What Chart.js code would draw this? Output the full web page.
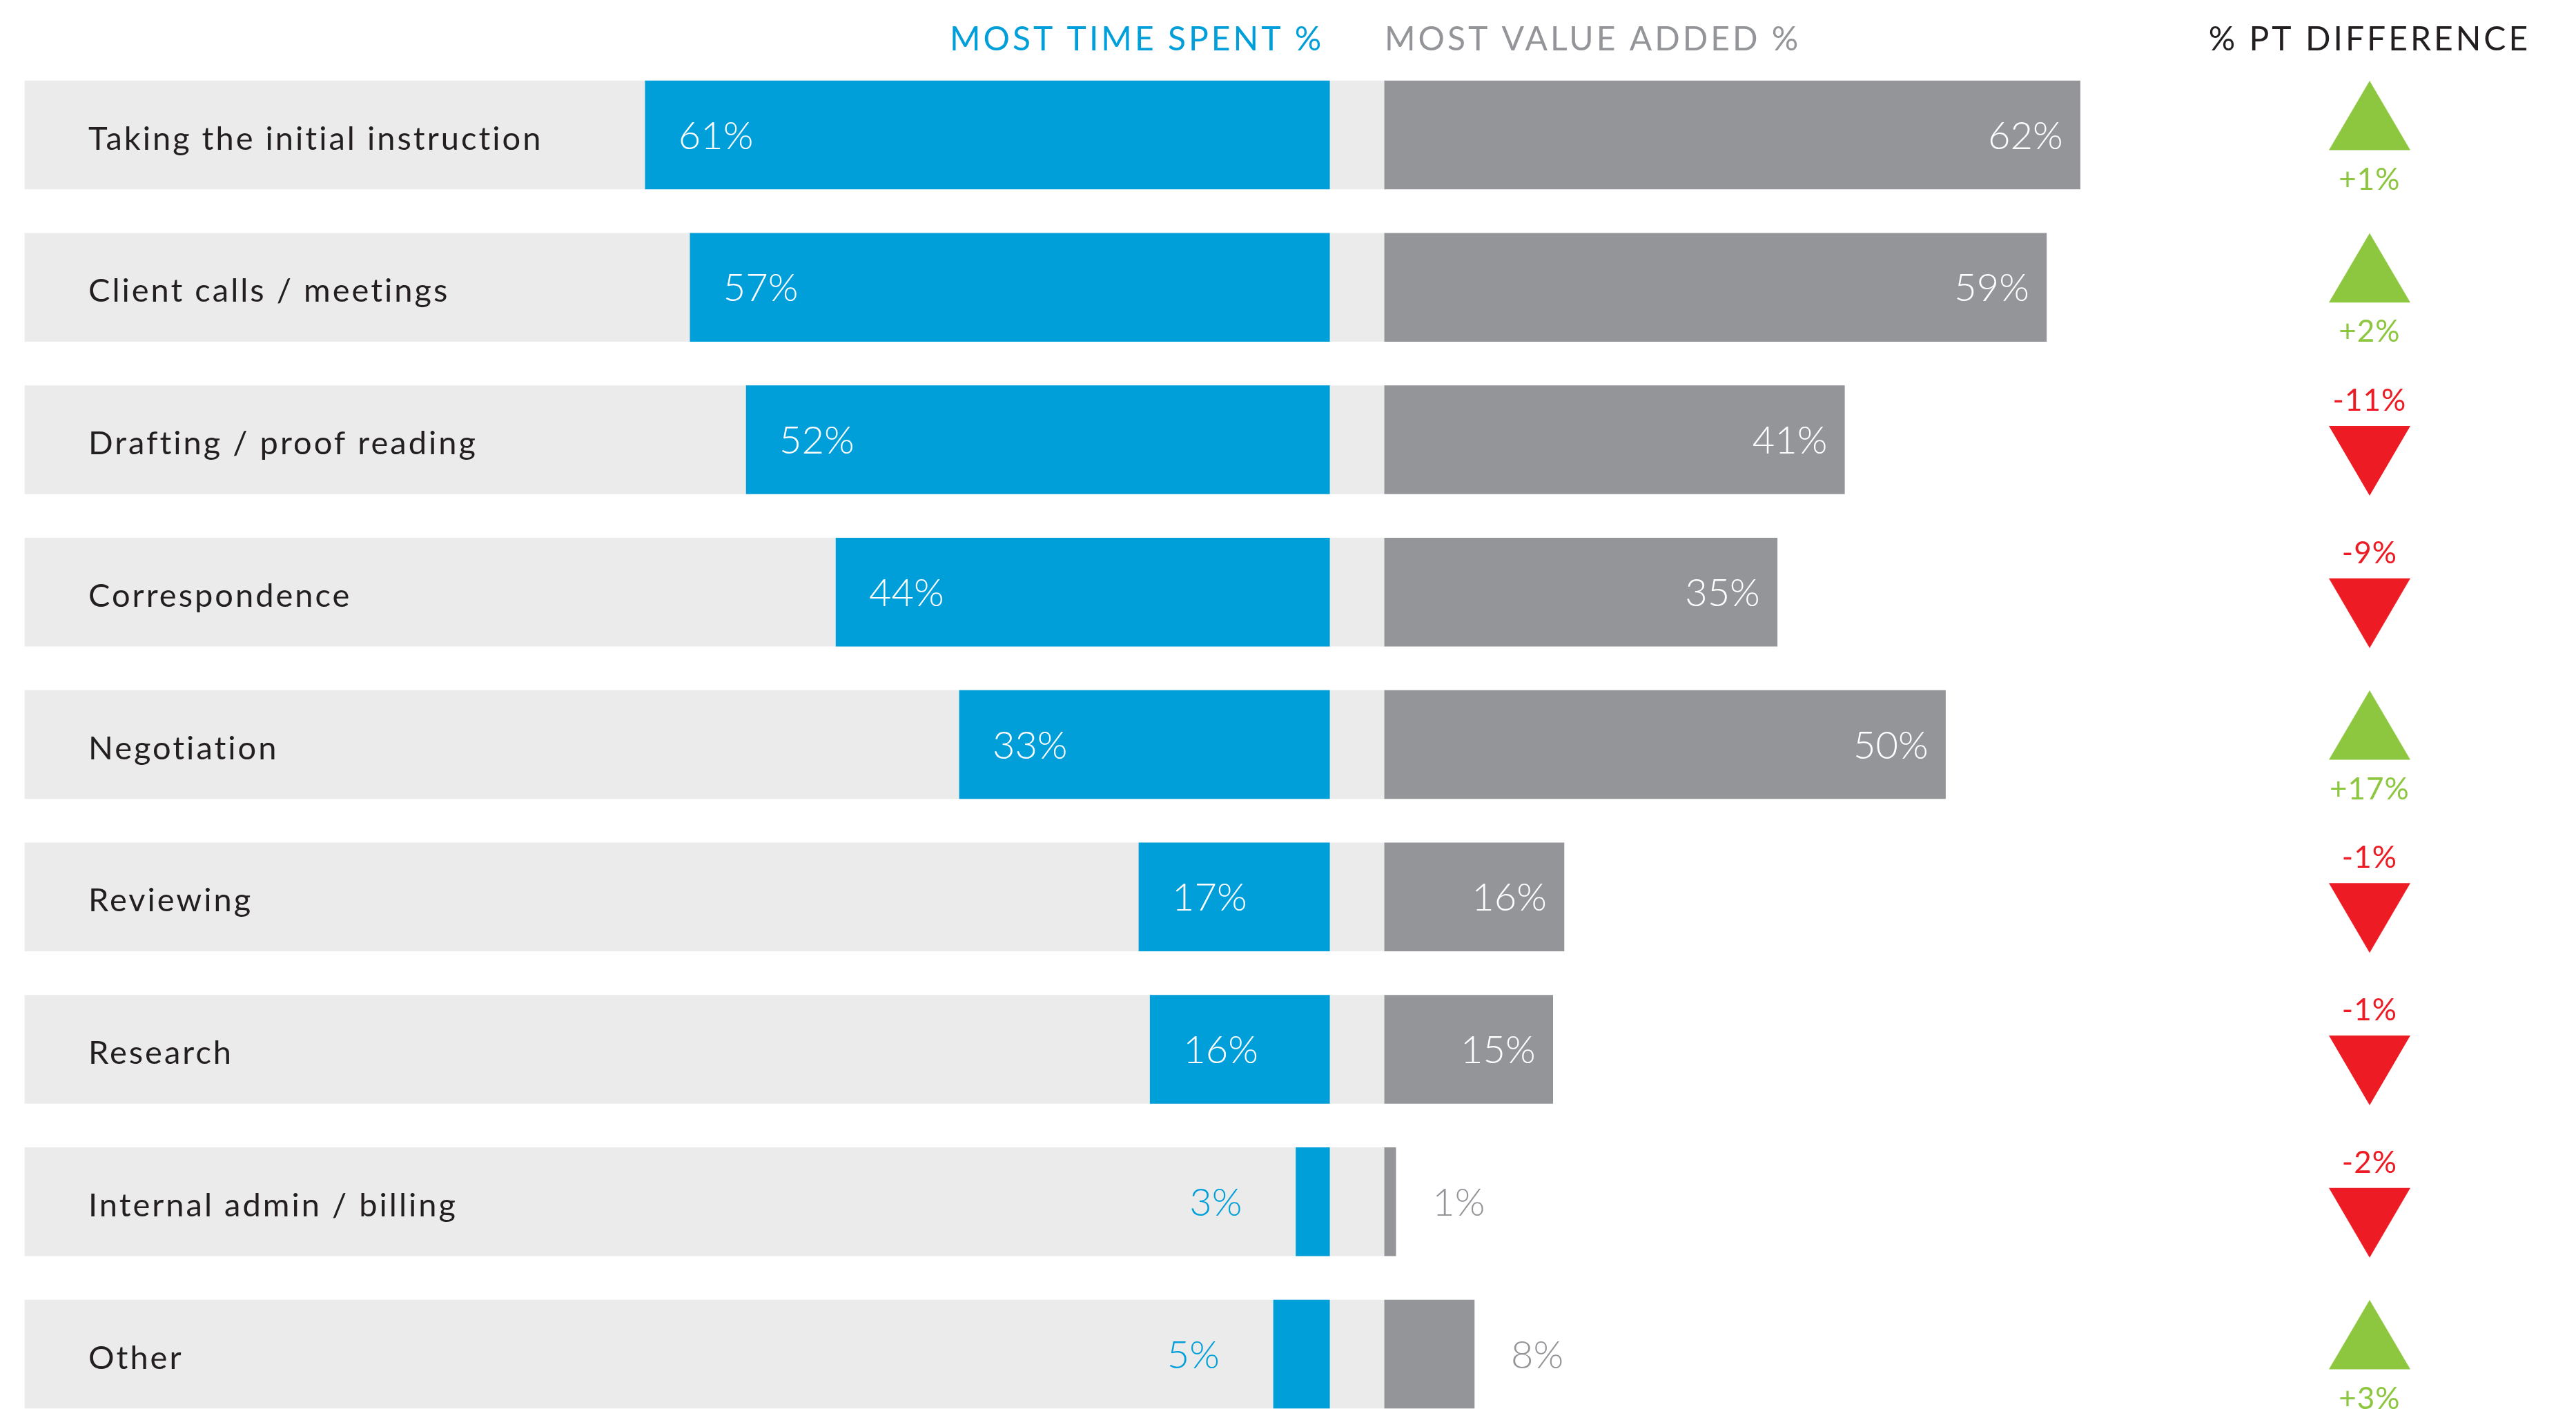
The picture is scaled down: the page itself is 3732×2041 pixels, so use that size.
<!DOCTYPE html>
<html>
<head>
<meta charset="utf-8">
<script src="https://cdn.jsdelivr.net/npm/chart.js@4.4.1/dist/chart.umd.min.js"></script>
<style>
  html, body { margin: 0; padding: 0; background: #fff; overflow: hidden; }
  canvas { display: block; }
</style>
</head>
<body>
<canvas id="chart" width="3732" height="2041"></canvas>
<script>
const categories = [
  'Taking the initial instruction',
  'Client calls / meetings',
  'Drafting / proof reading',
  'Correspondence',
  'Negotiation',
  'Reviewing',
  'Research',
  'Internal admin / billing',
  'Other'
];
const timeSpent = [61, 57, 52, 44, 33, 17, 16, 3, 5];
const valueAdded = [62, 59, 41, 35, 50, 16, 15, 1, 8];
const ptDiff = [1, 2, -11, -9, 17, -1, -1, -2, 3];
const headers = ['MOST TIME SPENT %', 'MOST VALUE ADDED %', '% PT DIFFERENCE'];

const BLUE = '#009fda';
const GREY = '#939598';
const BAND = '#eaebea';
const GREEN = '#8dc63f';
const RED = '#ed1c24';
const INK = '#231f20';
const FONT = 'Lato, "Open Sans", sans-serif';

// x axis runs in percentage points, 0 = right end of the blue bars
const X_MIN = -116.3;
const X_MAX = 111.1;
const GAP = 4.9;       // space between the blue and grey bars
const DIFF_X = 92.7;   // column holding the arrows

// arrow marker, drawn off-centre so the label fits on the other side
function arrow(up, color) {
  const c = document.createElement('canvas');
  c.width = 118;
  c.height = 164;
  const g = c.getContext('2d');
  g.fillStyle = color;
  g.beginPath();
  if (up) {
    g.moveTo(59, 3.5); g.lineTo(118, 104); g.lineTo(0, 104);
  } else {
    g.moveTo(0, 62); g.lineTo(118, 62); g.lineTo(59, 163);
  }
  g.closePath();
  g.fill();
  return c;
}
const upArrow = arrow(true, GREEN);
const downArrow = arrow(false, RED);

const labelPlugin = {
  id: 'labels',
  afterDatasetsDraw(chart) {
    const ctx = chart.ctx;
    const x = chart.scales.x;
    const y = chart.scales.y;
    ctx.save();
    ctx.textBaseline = 'alphabetic';

    // column headers
    ctx.font = '400 48px ' + FONT;
    ctx.letterSpacing = '4px';
    ctx.fillStyle = BLUE;
    ctx.textAlign = 'right';
    ctx.fillText(headers[0], x.getPixelForValue(0) - 8, 73);
    ctx.fillStyle = GREY;
    ctx.textAlign = 'left';
    ctx.fillText(headers[1], x.getPixelForValue(GAP), 73);
    ctx.fillStyle = INK;
    ctx.textAlign = 'center';
    ctx.fillText(headers[2], x.getPixelForValue(DIFF_X), 73);

    // category names inside the grey band
    ctx.font = '400 47px ' + FONT;
    ctx.letterSpacing = '3px';
    ctx.fillStyle = INK;
    ctx.textAlign = 'left';
    y.getLabels().forEach((name, i) => {
      ctx.fillText(name, x.left + 92, y.getPixelForValue(i) + 21);
    });
    ctx.letterSpacing = '0px';

    // bar values
    ctx.font = '300 56px ' + FONT;
    categories.forEach((c, i) => {
      const yc = y.getPixelForValue(i) + 20;
      const bl = x.getPixelForValue(-timeSpent[i]);
      if (timeSpent[i] >= 10) {
        ctx.fillStyle = '#fff';
        ctx.textAlign = 'left';
        ctx.fillText(timeSpent[i] + '%', bl + 48, yc);
      } else {
        ctx.fillStyle = BLUE;
        ctx.textAlign = 'right';
        ctx.fillText(timeSpent[i] + '%', bl - 78, yc);
      }
      const gr = x.getPixelForValue(GAP + valueAdded[i]);
      if (valueAdded[i] >= 10) {
        ctx.fillStyle = '#fff';
        ctx.textAlign = 'right';
        ctx.fillText(valueAdded[i] + '%', gr - 25, yc);
      } else {
        ctx.fillStyle = GREY;
        ctx.textAlign = 'left';
        ctx.fillText(valueAdded[i] + '%', gr + 53, yc);
      }
    });

    // difference labels next to the arrows
    const pts = chart.getDatasetMeta(0).data;
    ctx.font = '400 44px ' + FONT;
    ctx.letterSpacing = '1px';
    ctx.textAlign = 'center';
    ptDiff.forEach((d, i) => {
      const p = pts[i];
      ctx.fillStyle = d >= 0 ? GREEN : RED;
      const txt = (d >= 0 ? '+' : '-') + Math.abs(d) + '%';
      ctx.fillText(txt, p.x, d >= 0 ? p.y + 79 : p.y - 42);
    });
    ctx.restore();
  }
};

new Chart(document.getElementById('chart'), {
  type: 'bar',
  data: {
    labels: categories,
    datasets: [
      {
        type: 'line',
        label: '% PT DIFFERENCE',
        data: ptDiff.map(() => DIFF_X),
        showLine: false,
        pointStyle: (ctx) => ptDiff[ctx.dataIndex] >= 0 ? upArrow : downArrow,
        pointRadius: 10,
        clip: false,
        order: 0
      },
      {
        label: 'Most time spent %',
        data: timeSpent.map(v => [-v, 0]),
        backgroundColor: BLUE,
        grouped: false,
        barThickness: 157,
        clip: false,
        order: 1
      },
      {
        label: 'Most value added %',
        data: valueAdded.map(v => [GAP, GAP + v]),
        backgroundColor: GREY,
        grouped: false,
        barThickness: 157,
        clip: false,
        order: 2
      },
      {
        label: 'band',
        data: categories.map(() => [X_MIN, GAP]),
        backgroundColor: BAND,
        grouped: false,
        barThickness: 157,
        clip: false,
        order: 3
      }
    ]
  },
  options: {
    indexAxis: 'y',
    responsive: false,
    animation: false,
    events: [],
    layout: {
      autoPadding: false,
      padding: { left: 36, right: 0, top: 195.5, bottom: 79.5 }
    },
    plugins: {
      legend: { display: false },
      tooltip: { enabled: false }
    },
    scales: {
      x: {
        type: 'linear',
        display: false,
        min: X_MIN,
        max: X_MAX
      },
      y: {
        type: 'category',
        display: false,
        offset: false
      }
    }
  },
  plugins: [labelPlugin]
});
</script>
</body>
</html>
